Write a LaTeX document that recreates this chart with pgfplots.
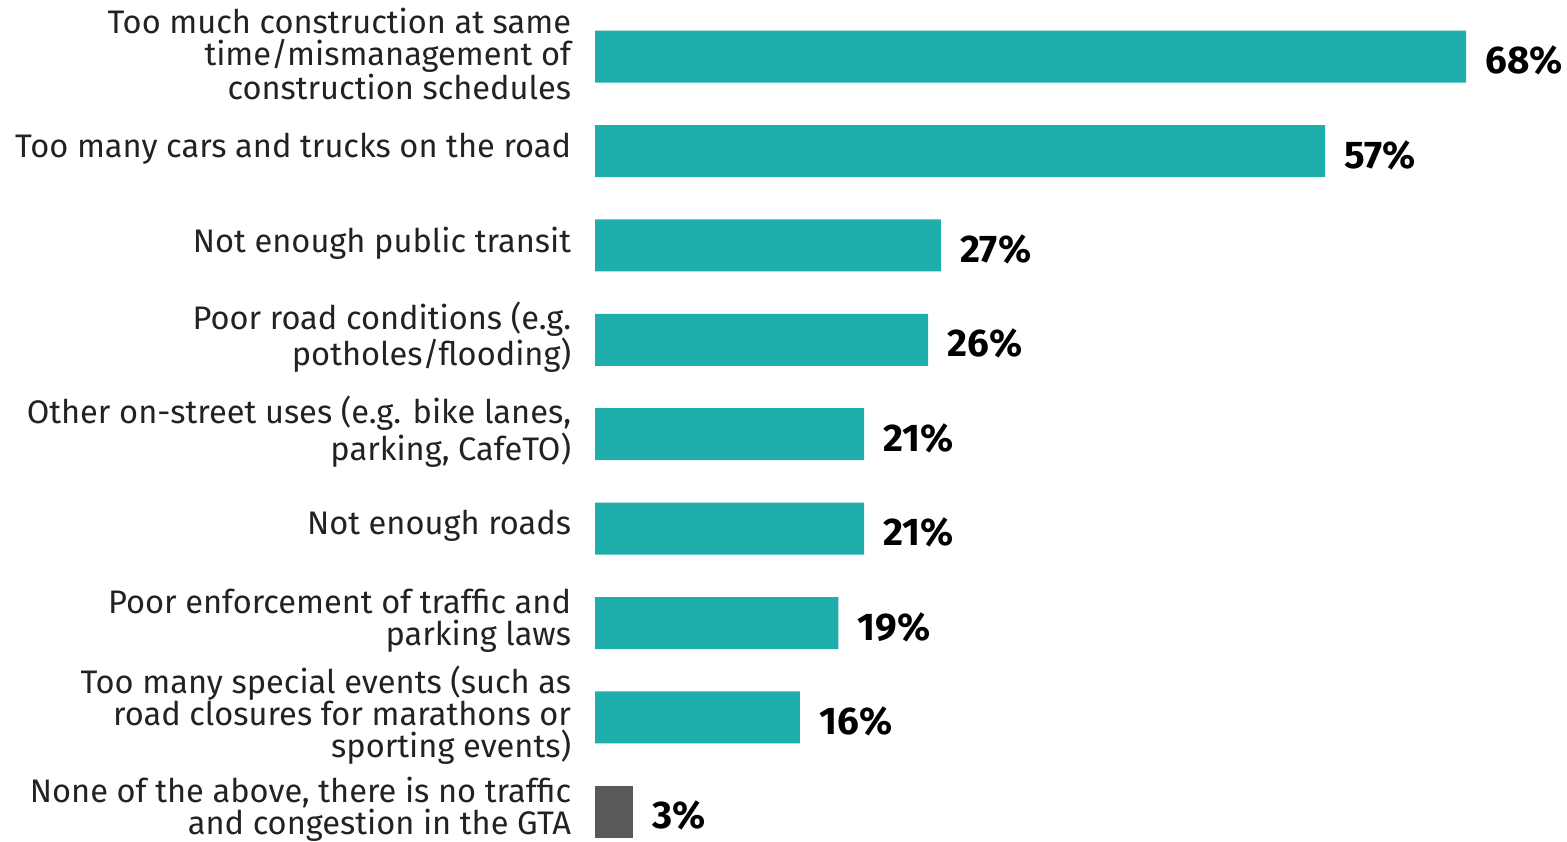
\documentclass[border=0pt]{standalone}
\usepackage{pgfplots}
\pgfplotsset{compat=1.18}
\usepackage{fontspec}
\setmainfont{Fira Sans}
\definecolor{teal1}{HTML}{1FAEAB}
\definecolor{gray1}{HTML}{595959}
\definecolor{txt}{HTML}{222222}
\begin{document}
\begin{tikzpicture}
\begin{axis}[
  scale only axis,
  width=783.5pt, height=421pt,
  xmin=-46.45, xmax=75.88,
  ymin=-0.6, ymax=8.32,
  y dir=reverse,
  axis line style={draw=none},
  clip=false,
  xbar, bar width=26pt, bar shift=0pt,
  ytick={0,...,8},
  yticklabels={
    {Too much construction at same\\time/mismanagement of\\construction schedules},
    {Too many cars and trucks on the road},
    {Not enough public transit},
    {Poor road conditions (e.g.\\potholes/flooding)},
    {Other on-street uses (e.g. bike lanes,\\parking, CafeTO)},
    {Not enough roads},
    {Poor enforcement of traffic and\\parking laws},
    {Too many special events (such as\\road closures for marathons or\\sporting events)},
    {None of the above, there is no traffic\\and congestion in the GTA}},
  yticklabel style={anchor=east, align=right, inner sep=0pt, xshift=290pt, yshift=1.2pt,
    font=\fontsize{16.3}{16}\selectfont, text=txt},
  xtick=\empty,
  tick style={draw=none},
  /pgf/number format/assume math mode=true,
  nodes near coords={\pgfmathprintnumber{\pgfplotspointmeta}\%},
  nodes near coords style={anchor=west, inner sep=0pt, xshift=9.5pt, yshift=-2pt,
    font=\fontsize{19.3}{20}\selectfont\bfseries, text=black},
]
\addplot[fill=teal1, draw=none] coordinates {
  (68,0) (57,1) (27,2) (26,3) (21,4) (21,5) (19,6) (16,7)};
\addplot[fill=gray1, draw=none] coordinates {(3,8)};
\end{axis}
\pgfresetboundingbox
\path (current axis.south west) rectangle (current axis.north east);
\end{tikzpicture}
\end{document}
